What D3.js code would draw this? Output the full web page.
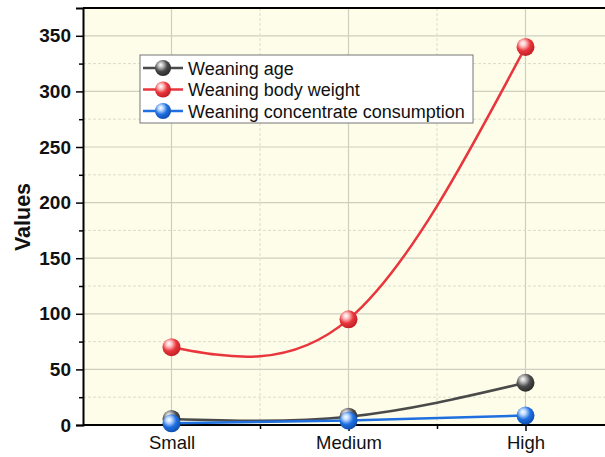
<!DOCTYPE html>
<html>
<head>
<meta charset="utf-8">
<script src="https://cdn.jsdelivr.net/npm/d3@7"></script>
<style>
  body { margin: 0; background: #fff; overflow: hidden; }
  svg { font-family: Arial, "Liberation Sans", sans-serif; }
</style>
</head>
<body>
<div id="chart"></div>
<script>
var categories = ["Small", "Medium", "High"];
var weaningAge = [5.5, 7.5, 38];
var bodyWeight = [70, 95, 340];
var concentrate = [1.5, 4, 8.5];
var seriesNames = ["Weaning age", "Weaning body weight", "Weaning concentrate consumption"];
var yTicks = [0, 50, 100, 150, 200, 250, 300, 350];

var series = [
  {name: seriesNames[0], values: weaningAge, color: "#4a4a4a", light: "#bdbdbd", dark: "#2a2a2a"},
  {name: seriesNames[1], values: bodyWeight, color: "#e8363c", light: "#ffc2c4", dark: "#c21f25"},
  {name: seriesNames[2], values: concentrate, color: "#1f6fe0", light: "#b9d6ff", dark: "#0f4fb0"}
];

// the scale spans past the right edge of the window, as in the source image
var margin = {top: 8, right: -9, bottom: 32, left: 83},
    W = 605, H = 457,
    width = W - margin.left - margin.right,
    height = H - margin.top - margin.bottom,
    visW = W - margin.left;

var x = d3.scaleLinear().domain([-0.5, 2.5]).range([0, width]);
var y = d3.scaleLinear().domain([0, 375]).range([height, 0]);

var svg = d3.select("#chart").append("svg")
    .attr("width", W)
    .attr("height", H)
    .style("position", "absolute")
    .style("left", 0).style("top", 0);

var defs = svg.append("defs");
series.forEach(function (s, i) {
  var g = defs.append("radialGradient")
      .attr("id", "ball" + i)
      .attr("cx", "40%").attr("cy", "35%").attr("r", "65%")
      .attr("fx", "35%").attr("fy", "30%");
  g.append("stop").attr("offset", "0%").attr("stop-color", "#ffffff");
  g.append("stop").attr("offset", "25%").attr("stop-color", s.light);
  g.append("stop").attr("offset", "60%").attr("stop-color", s.color);
  g.append("stop").attr("offset", "100%").attr("stop-color", s.dark);
});

var plot = svg.append("g")
    .attr("transform", "translate(" + margin.left + "," + margin.top + ")");

plot.append("rect")
    .attr("width", visW)
    .attr("height", height)
    .attr("fill", "#fdfdea");

// grid lines
var minorY = d3.range(25, 375, 50);
plot.selectAll(null).data(minorY).enter().append("line")
    .attr("x1", 0).attr("x2", visW)
    .attr("y1", function (d) { return y(d); }).attr("y2", function (d) { return y(d); })
    .attr("stroke", "#dcdccc").attr("stroke-dasharray", "3,2").attr("stroke-width", 1);
plot.selectAll(null).data(yTicks.slice(1)).enter().append("line")
    .attr("x1", 0).attr("x2", visW)
    .attr("y1", function (d) { return y(d); }).attr("y2", function (d) { return y(d); })
    .attr("stroke", "#cfcfc0").attr("stroke-width", 1.2);
plot.selectAll(null).data([0.5, 1.5]).enter().append("line")
    .attr("y1", 0).attr("y2", height)
    .attr("x1", function (d) { return x(d); }).attr("x2", function (d) { return x(d); })
    .attr("stroke", "#dcdccc").attr("stroke-dasharray", "3,2").attr("stroke-width", 1);
plot.selectAll(null).data([0, 1, 2]).enter().append("line")
    .attr("y1", 0).attr("y2", height)
    .attr("x1", function (d) { return x(d); }).attr("x2", function (d) { return x(d); })
    .attr("stroke", "#cfcfc0").attr("stroke-width", 1.2);

// top border
plot.append("line").attr("x1", 0).attr("x2", visW).attr("y1", 0).attr("y2", 0)
    .attr("stroke", "#000").attr("stroke-width", 2);

// axes
var yAxis = d3.axisLeft(y).tickValues(yTicks).tickSize(7).tickPadding(5);
var yMinor = d3.axisLeft(y).tickValues(minorY).tickSize(4).tickFormat("");
var xAxis = d3.axisBottom(x).tickValues([0, 1, 2])
    .tickFormat(function (d) { return categories[d]; }).tickSize(6).tickPadding(5);
var xMinor = d3.axisBottom(x).tickValues([0.5, 1.5]).tickSize(4).tickFormat("");

var gy = plot.append("g").call(yAxis);
plot.append("g").call(yMinor).select(".domain").remove();
gy.selectAll("text").attr("font-size", 19).attr("font-weight", "bold").attr("fill", "#111");

var gx = plot.append("g").attr("transform", "translate(0," + height + ")").call(xAxis);
gx.select(".domain").remove();
gx.append("line").attr("x1", 0).attr("x2", visW).attr("stroke", "#000").attr("stroke-width", 2);
plot.append("g").attr("transform", "translate(0," + height + ")").call(xMinor).select(".domain").remove();
gx.selectAll("text").attr("font-size", 18.5).attr("fill", "#111");

plot.selectAll(".domain").attr("stroke-width", 2);
plot.selectAll(".tick line").attr("stroke-width", 1.5);

svg.append("text")
    .attr("transform", "translate(30,217) rotate(-90)")
    .attr("text-anchor", "middle")
    .attr("font-size", 21.5)
    .attr("font-weight", "bold")
    .attr("fill", "#111")
    .text("Values");

// lines and points
var line = d3.line()
    .x(function (d, i) { return x(i); })
    .y(function (d) { return y(d); })
    .curve(d3.curveNatural);

series.forEach(function (s) {
  plot.append("path")
      .datum(s.values)
      .attr("fill", "none")
      .attr("stroke", s.color)
      .attr("stroke-width", 2.5)
      .attr("d", line);
});
series.forEach(function (s, i) {
  plot.selectAll(null).data(s.values).enter().append("circle")
      .attr("cx", function (d, j) { return x(j); })
      .attr("cy", function (d) { return y(d); })
      .attr("r", 9)
      .attr("fill", "url(#ball" + i + ")");
});

// legend
var legend = svg.append("g").attr("transform", "translate(140,55)");
legend.append("rect")
    .attr("width", 333).attr("height", 68)
    .attr("fill", "#fff").attr("stroke", "#777").attr("stroke-width", 1);
series.forEach(function (s, i) {
  var row = legend.append("g").attr("transform", "translate(0," + (13 + i * 21.5) + ")");
  row.append("line").attr("x1", 3).attr("x2", 43).attr("y1", 0).attr("y2", 0)
      .attr("stroke", s.color).attr("stroke-width", 2.5);
  row.append("circle").attr("cx", 23).attr("cy", 0).attr("r", 8)
      .attr("fill", "url(#ball" + i + ")");
  row.append("text").attr("x", 48).attr("y", 6.5)
      .attr("font-size", 18).attr("fill", "#111").text(s.name);
});
</script>
</body>
</html>
